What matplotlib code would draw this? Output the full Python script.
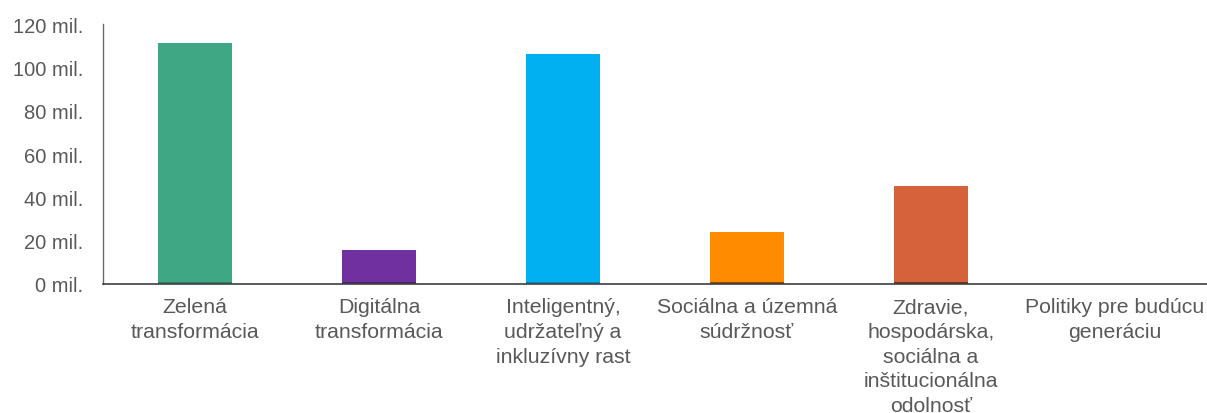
import matplotlib.pyplot as plt
import numpy as np

plt.rcParams['font.family'] = ['Liberation Sans', 'DejaVu Sans']

# categories and values (mil. EUR)
categories = [
    "Zelená\ntransformácia",
    "Digitálna\ntransformácia",
    "Inteligentný,\nudržateľný a\ninkluzívny rast",
    "Sociálna a územná\nsúdržnosť",
    "Zdravie,\nhospodárska,\nsociálna a\ninštitucionálna\nodolnosť",
    "Politiky pre budúcu\ngeneráciu",
]
main_values = [110.4, 15.0, 105.3, 23.2, 44.4, 0.0]
base_values = [0.7, 0.8, 0.7, 0.8, 0.8, 0.0]
colors = ["#3fa784", "#7030a0", "#00b0f0", "#ff8c00", "#d5623a", "#ffffff"]
base_colors = ["#2f7d63", "#4a1f6b", "#0a86b8", "#8a4a00", "#6b3020", "#ffffff"]
yticks = [0, 20, 40, 60, 80, 100, 120]
ytick_labels = [f"{v} mil." for v in yticks]

text_color = "#595959"

fig = plt.figure(figsize=(12.07, 4.14), dpi=100)
ax = fig.add_axes([0.0853, 0.3116, 0.9147, 0.628])

x = np.arange(len(categories))
ax.bar(x, base_values, width=0.4, color=base_colors)
ax.bar(x, main_values, width=0.4, bottom=base_values, color=colors)

ax.set_xlim(-0.5, len(categories) - 0.5)
ax.set_ylim(0, 120)
ax.set_yticks(yticks)
ax.set_yticklabels(ytick_labels)
ax.set_xticks(x)
ax.set_xticklabels(categories, linespacing=1.38)

ax.tick_params(axis='y', length=0, pad=14, labelsize=14.5, labelcolor=text_color)
ax.tick_params(axis='x', length=0, pad=9.5, labelsize=15.3, labelcolor=text_color)

for side in ['top', 'right']:
    ax.spines[side].set_visible(False)
ax.spines['left'].set_color("#6b6b6b")
ax.spines['bottom'].set_color("#404040")
ax.spines['left'].set_linewidth(1.0)
ax.spines['bottom'].set_linewidth(1.2)

fig.savefig("out.png", dpi=100)
